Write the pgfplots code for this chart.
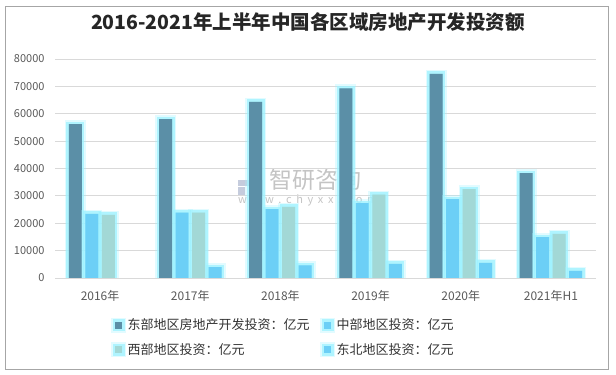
\documentclass[border=0pt]{standalone}
\usepackage{fontspec}
\setmainfont{Noto Sans CJK SC}
\usepackage{pgfplots}
\pgfplotsset{compat=1.18}
\definecolor{eastc}{HTML}{5B8FA7}
\definecolor{centc}{HTML}{6CCFF6}
\definecolor{westc}{HTML}{A2D8D6}
\definecolor{nec}{HTML}{6CCFF6}
\definecolor{glow}{HTML}{9EF2FF}
\definecolor{gridc}{HTML}{D9D9D9}
\definecolor{txt}{HTML}{595959}
\definecolor{wm}{HTML}{C4C4C4}
\definecolor{wmb}{HTML}{C5CCDD}
\begin{document}
\begin{tikzpicture}
\useasboundingbox (0,0) rectangle (616bp,375bp);
\draw[color=black!35, line width=0.8bp] (5bp,6bp) rectangle (608bp,369bp);
\node[font=\bfseries\fontsize{19.5bp}{22bp}\selectfont, text=black!85] at (308bp,353bp) {2016-2021年上半年中国各区域房地产开发投资额};
% watermark
\fill[color=wmb] (238bp,189bp) rectangle (251bp,195bp);
\fill[color=wmb] (238bp,180bp) rectangle (245bp,188bp);
\fill[color=wmb] (253bp,180bp) rectangle (263bp,195bp);
\node[font=\fontsize{23bp}{25bp}\selectfont, text=wm, anchor=west, inner sep=0pt] at (269bp,195bp) {智研咨询};
\node[font=\fontsize{11bp}{12bp}\selectfont, text=wm, anchor=west, inner sep=0pt] at (238bp,175bp) {w\hspace{4.6bp}w\hspace{4.6bp}w\hspace{4.6bp}.\hspace{4.6bp}c\hspace{4.6bp}h\hspace{4.6bp}y\hspace{4.6bp}x\hspace{4.6bp}x\hspace{4.6bp}.\hspace{4.6bp}c\hspace{4.6bp}o\hspace{4.6bp}m};
\begin{axis}[
  at={(55bp,97bp)}, anchor=south west,
  scale only axis, width=541bp, height=219bp,
  ybar=3.5bp, bar width=13bp,
  xmin=-0.5, xmax=5.5, ymin=0, ymax=80000,
  xtick={0,1,2,3,4,5},
  xticklabels={2016年,2017年,2018年,2019年,2020年,2021年H1},
  ytick={0,10000,...,80000},
  scaled y ticks=false,
  /pgf/number format/assume math mode=true,
  yticklabel={\pgfmathprintnumber[fixed,1000 sep={}]{\tick}},
  ymajorgrids, grid style={color=gridc, line width=0.8bp},
  axis x line*=bottom, axis y line*=left,
  x axis line style={color=gridc, line width=0.8bp, -},
  y axis line style={draw=none},
  major tick length=0pt,
  xticklabel style={font=\fontsize{12bp}{14bp}\selectfont, text=txt, yshift=-9bp},
  yticklabel style={font=\fontsize{11bp}{13bp}\selectfont, text=txt, xshift=-7bp},
  legend style={draw=none, fill=none, at={(0.098,-0.17)}, anchor=north west,
    legend columns=2, font=\fontsize{13bp}{15bp}\selectfont, text=black!80,
    /tikz/every even column/.style={column sep=9bp}, row sep=9bp,
    nodes={inner sep=1.5bp}},
  legend cell align=left,
  every axis plot/.append style={draw=none,
    preaction={draw=glow, line width=8bp, opacity=0.3},
    preaction={draw=glow, line width=5bp, opacity=0.75}},
]
\addplot[fill=eastc,
  legend image code/.code={\fill[eastc] (0bp,-3.5bp) rectangle (7bp,3.5bp);}]
  coordinates {(0,56233) (1,58023) (2,64355) (3,69313) (4,74564) (5,38272)};
\addlegendentry{东部地区房地产开发投资：亿元}
\addplot[fill=centc,
  legend image code/.code={\fill[centc] (0bp,-3.5bp) rectangle (7bp,3.5bp);}]
  coordinates {(0,23404) (1,23883) (2,25180) (3,27309) (4,28802) (5,14928)};
\addlegendentry{中部地区投资：亿元}
\addplot[fill=westc,
  legend image code/.code={\fill[westc] (0bp,-3.5bp) rectangle (7bp,3.5bp);}]
  coordinates {(0,23061) (1,23877) (2,26009) (3,30461) (4,32426) (5,16122)};
\addlegendentry{西部地区投资：亿元}
\addplot[fill=nec,
  legend image code/.code={\fill[nec] (0bp,-3.5bp) rectangle (7bp,3.5bp);}]
  coordinates {(1,3930) (2,4650) (3,5125) (4,5528) (5,2625)};
\addlegendentry{东北地区投资：亿元}
\end{axis}
\end{tikzpicture}
\end{document}
